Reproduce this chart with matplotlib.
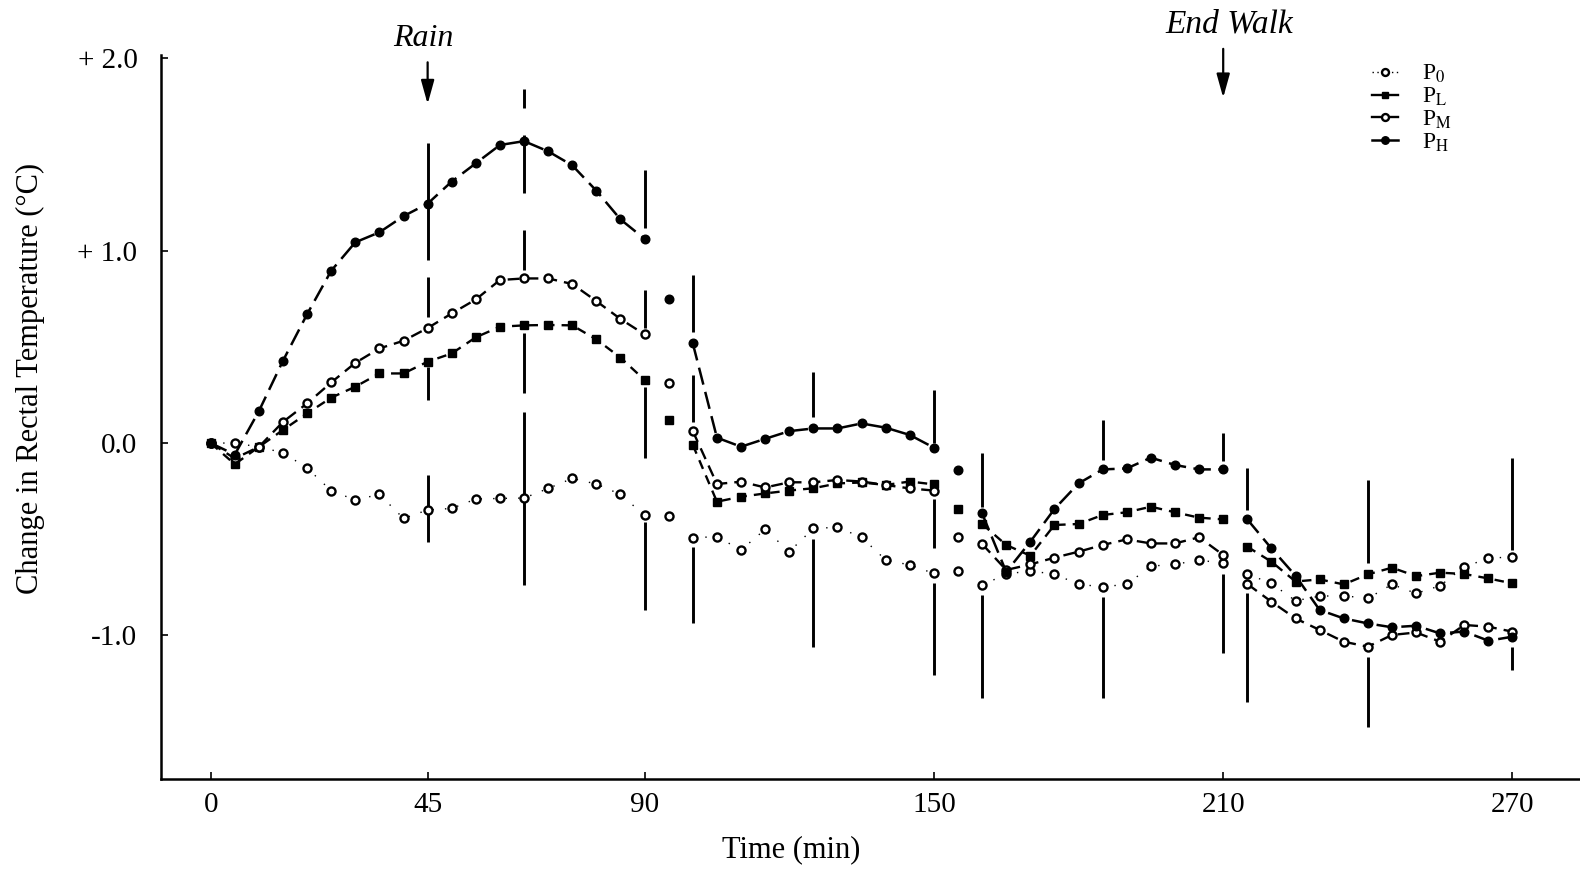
import numpy as np
import matplotlib
matplotlib.use("Agg")
import matplotlib.pyplot as plt
from matplotlib.lines import Line2D
from matplotlib.legend_handler import HandlerLine2D

plt.rcParams['font.family'] = ['Liberation Serif', 'DejaVu Serif']
plt.rcParams['mathtext.fontset'] = 'stix'

# ---------------- data ----------------
time_min = list(range(0, 275, 5))

p_h = [0.0, -0.06, 0.166, 0.428, 0.67, 0.896, 1.044, 1.096, 1.18, 1.245,
       1.36, 1.455, 1.55, 1.57, 1.517, 1.444, 1.312, 1.163, 1.062, 0.749,
       0.518, 0.028, -0.019, 0.022, 0.062, 0.076, 0.076, 0.102, 0.08, 0.042,
       -0.024, -0.14, -0.366, -0.67, -0.513, -0.343, -0.21, -0.137, -0.132, -0.076,
       -0.114, -0.137, -0.137, -0.397, -0.548, -0.69, -0.868, -0.912, -0.938, -0.958,
       -0.95, -0.99, -0.98, -1.028, -1.007]

p_l = [0.0, -0.11, -0.02, 0.068, 0.154, 0.236, 0.293, 0.362, 0.362, 0.423,
       0.466, 0.55, 0.605, 0.612, 0.614, 0.612, 0.539, 0.444, 0.328, 0.12,
       -0.01, -0.305, -0.279, -0.262, -0.247, -0.235, -0.21, -0.205, -0.218, -0.2,
       -0.215, -0.343, -0.421, -0.53, -0.586, -0.426, -0.421, -0.374, -0.36, -0.331,
       -0.36, -0.388, -0.397, -0.539, -0.617, -0.72, -0.709, -0.735, -0.683, -0.648,
       -0.692, -0.674, -0.681, -0.704, -0.73]

p_m = [0.0, -0.08, -0.02, 0.11, 0.206, 0.315, 0.417, 0.492, 0.532, 0.598,
       0.674, 0.747, 0.848, 0.856, 0.856, 0.827, 0.738, 0.645, 0.565, 0.314,
       0.062, -0.213, -0.201, -0.231, -0.204, -0.204, -0.192, -0.2, -0.218, -0.236,
       -0.247, -0.487, -0.525, -0.66, -0.631, -0.596, -0.565, -0.53, -0.501, -0.522,
       -0.522, -0.49, -0.582, -0.733, -0.825, -0.912, -0.972, -1.033, -1.059, -0.998,
       -0.985, -1.033, -0.946, -0.955, -0.981]

p_0 = [0.0, 0.0, -0.02, -0.05, -0.13, -0.248, -0.296, -0.267, -0.392, -0.348,
       -0.34, -0.291, -0.288, -0.286, -0.236, -0.184, -0.213, -0.267, -0.376, -0.378,
       -0.492, -0.487, -0.556, -0.449, -0.565, -0.444, -0.438, -0.49, -0.608, -0.634,
       -0.678, -0.666, -0.74, -0.68, -0.666, -0.681, -0.735, -0.747, -0.735, -0.64,
       -0.631, -0.608, -0.626, -0.681, -0.73, -0.82, -0.796, -0.794, -0.808, -0.735,
       -0.782, -0.742, -0.643, -0.6, -0.591]

# line breaks occur after these times (isolated points at 95 and 155)
break_after = [90, 95, 150, 155, 210]

# error bar pieces (time, low, high)
err_t = [45, 45, 45, 45,
         65, 65, 65, 65, 65,
         90, 90, 90, 90,
         100, 100, 100,
         125, 125,
         150, 150, 150,
         160, 160,
         185, 185,
         210, 210,
         215, 215,
         240, 240,
         270, 270]
err_lo = [0.952, 0.657, 0.224, -0.513,
          1.30, 1.74, 0.90, 0.26, -0.74,
          1.116, 0.60, -0.08, -0.868,
          0.58, 0.11, -0.938,
          0.137, -1.06,
          0.0, -0.548, -1.206,
          -0.33, -1.328,
          -0.09, -1.328,
          -0.095, -1.094,
          -0.35, -1.345,
          -0.626, -1.475,
          -0.556, -1.18]
err_hi = [1.558, 0.865, 0.397, -0.166,
          1.60, 1.84, 1.108, 0.57, 0.16,
          1.42, 0.796, 0.29, -0.41,
          0.874, 0.354, -0.54,
          0.371, -0.50,
          0.276, -0.29, -0.73,
          -0.054, -0.79,
          0.12, -0.80,
          0.05, -0.68,
          -0.132, -0.78,
          -0.192, -1.11,
          -0.08, -1.06]

x_ticks = [0, 45, 90, 150, 210, 270]
x_ticklabels = ['0', '45', '90', '150', '210', '270']
y_ticks = [2.0, 1.0, 0.0, -1.0]
y_ticklabels = ['+ 2.0', '+ 1.0', '0.0', '-1.0']

series_labels = ['P$_0$', 'P$_\\mathrm{L}$', 'P$_\\mathrm{M}$', 'P$_\\mathrm{H}$']

# ---------------- figure ----------------
W, H = 1580, 872
fig = plt.figure(figsize=(W / 100, H / 100), dpi=100)
ax = fig.add_axes([161 / W, 1 - 779 / H, (W - 161) / W, (779 - 55) / H])
ax.set_xlim(-10.3, 284.0)
ax.set_ylim(-1.747, 2.018)

t_arr = np.array(time_min, dtype=float)


def with_breaks(vals):
    xs, ys = [], []
    for t, v in zip(time_min, vals):
        xs.append(t)
        ys.append(v)
        if t in break_after:
            xs.append(np.nan)
            ys.append(np.nan)
    return np.array(xs, float), np.array(ys, float)


# error bars
ax.vlines(err_t, err_lo, err_hi, colors='black', linewidth=2.1, zorder=1)

styles = [
    dict(vals=p_0, ls=(0, (1, 8)), lw=1.0, marker='o', mfc='white', ms=5.8, mew=1.7),
    dict(vals=p_l, ls=(0, (4, 3)), lw=1.7, marker='s', mfc='black', ms=5.2, mew=1.0),
    dict(vals=p_m, ls=(0, (5, 3)), lw=1.7, marker='o', mfc='white', ms=5.8, mew=1.7),
    dict(vals=p_h, ls=(0, (7, 3)), lw=1.8, marker='o', mfc='black', ms=6.2, mew=1.0),
]

handles = []
for st, lab in zip(styles, series_labels):
    xs, ys = with_breaks(st['vals'])
    ax.plot(xs, ys, color='black', linestyle=st['ls'], linewidth=st['lw'], zorder=2)
    ax.plot(t_arr, st['vals'], linestyle='none', marker=st['marker'],
            markerfacecolor=st['mfc'], markeredgecolor='black',
            markersize=st['ms'], markeredgewidth=st['mew'], zorder=3)
    handles.append(Line2D([], [], color='black',
                          linestyle=(0, (1, 2.5)) if lab == 'P$_0$' else '-',
                          linewidth=st['lw'],
                          marker=st['marker'], markerfacecolor=st['mfc'],
                          markeredgecolor='black', markersize=st['ms'] - 0.8,
                          markeredgewidth=st['mew'], label=lab))


class EndMarkerHandler(HandlerLine2D):
    def get_xdata(self, legend, xdescent, ydescent, width, height, fontsize):
        xdata = np.array([-xdescent, -xdescent + width * 0.70])
        xm = np.array([-xdescent + width * 0.95])
        return xdata, xm


leg = ax.legend(handles=handles, loc='upper left',
                bbox_to_anchor=(1372 / W, 1 - 63 / H), bbox_transform=fig.transFigure,
                frameon=False, fontsize=17, handlelength=1.6, handletextpad=0.5,
                labelspacing=0.02, borderpad=0, borderaxespad=0,
                handler_map={Line2D: EndMarkerHandler(numpoints=1)})

# axes style
for s in ['top', 'right']:
    ax.spines[s].set_visible(False)
for s in ['left', 'bottom']:
    ax.spines[s].set_linewidth(1.8)
ax.set_xticks(x_ticks)
ax.set_xticklabels(x_ticklabels)
ax.set_yticks(y_ticks)
ax.set_yticklabels(y_ticklabels)
ax.tick_params(axis='both', direction='in', length=5, width=1.2, labelsize=21)
ax.tick_params(axis='y', pad=17)
ax.tick_params(axis='x', pad=9)

fig.text(30 / W, 1 - 378 / H, 'Change in Rectal Temperature (\u00b0C)', rotation=90,
         ha='center', va='center', fontsize=22)
fig.text(791 / W, 1 - 850 / H, 'Time (min)', ha='center', va='center', fontsize=22)

arrow_kw = dict(arrowstyle='-|>,head_width=0.25,head_length=0.9', lw=1.6, color='black',
                mutation_scale=16, shrinkA=0, shrinkB=0)
ax.annotate('', xy=(45, 1.763), xytext=(45, 1.98), arrowprops=arrow_kw,
            annotation_clip=False)
ax.text(44.2, 2.106, 'Rain', ha='center', va='center', fontsize=23, style='italic',
        clip_on=False)
ax.annotate('', xy=(210, 1.796), xytext=(210, 2.05), arrowprops=arrow_kw,
            annotation_clip=False)
ax.text(211.2, 2.178, 'End Walk', ha='center', va='center', fontsize=24, style='italic',
        clip_on=False)

fig.savefig('out.png', dpi=100)
